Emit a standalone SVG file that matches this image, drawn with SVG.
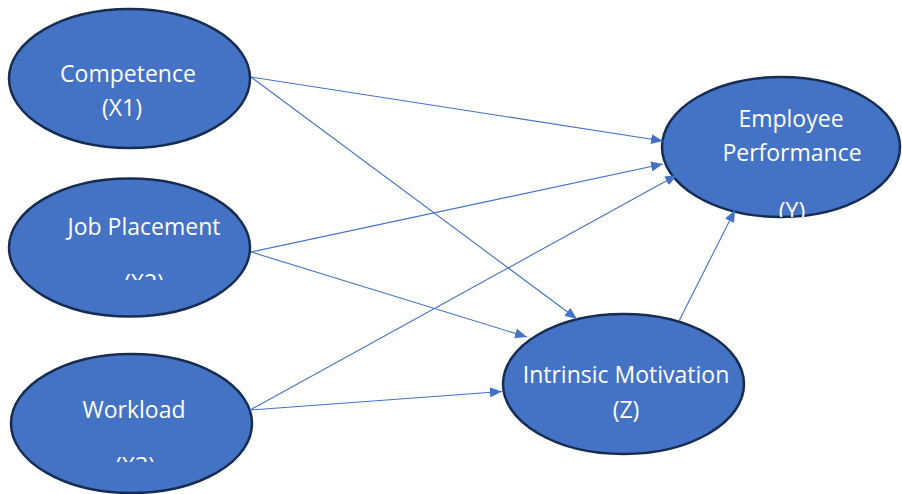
<svg xmlns="http://www.w3.org/2000/svg" width="902" height="494" viewBox="0 0 902 494">
<style>
.node{fill:#4472C4;stroke:#172C51;stroke-width:2.5}
.lbl{fill:#FFFFFF;font-family:"Open Sans","Liberation Sans",sans-serif;font-size:23px;text-anchor:middle}
.edge{stroke:#4472C4;stroke-width:1.1;fill:none;marker-end:url(#ah)}
</style>
<defs>
<marker id="ah" markerWidth="12" markerHeight="10" refX="12" refY="5" orient="auto" markerUnits="userSpaceOnUse">
<path d="M0,0 L12,5 L0,10 z" fill="#4472C4"/>
</marker>
<clipPath id="cX2"><rect x="0" y="0" width="300" height="280"/></clipPath>
<clipPath id="cX3"><rect x="0" y="0" width="300" height="462"/></clipPath>
<clipPath id="cY"><rect x="640" y="0" width="262" height="217"/></clipPath>
</defs>
<rect width="902" height="494" fill="#FFFFFF"/>
<g id="competence">
<ellipse class="node" cx="129.5" cy="78.5" rx="120.5" ry="69.5"/>
<text class="lbl" x="128" y="82">Competence</text>
<text class="lbl" x="122" y="116">(X1)</text>
</g>
<g id="job-placement">
<ellipse class="node" cx="129.5" cy="247.5" rx="120.5" ry="69"/>
<text class="lbl" x="144" y="235">Job Placement</text>
<text class="lbl" x="144" y="291" clip-path="url(#cX2)">(X2)</text>
</g>
<g id="workload">
<ellipse class="node" cx="131.5" cy="423.5" rx="120.5" ry="69.5"/>
<text class="lbl" x="134" y="418">Workload</text>
<text class="lbl" x="135" y="474" clip-path="url(#cX3)">(X3)</text>
</g>
<g id="employee-performance">
<ellipse class="node" cx="781" cy="147" rx="119" ry="70"/>
<text class="lbl" x="791" y="127">Employee</text>
<text class="lbl" x="792" y="161">Performance</text>
<text class="lbl" x="792" y="219" clip-path="url(#cY)">(Y)</text>
</g>
<g id="intrinsic-motivation">
<ellipse class="node" cx="623.5" cy="384" rx="120.5" ry="70"/>
<text class="lbl" x="626" y="383">Intrinsic Motivation</text>
<text class="lbl" x="626" y="418">(Z)</text>
</g>
<g id="connectors">
<line class="edge" x1="251" y1="77" x2="663" y2="141"/>
<line class="edge" x1="251" y1="77" x2="577" y2="319"/>
<line class="edge" x1="251" y1="252" x2="663" y2="164"/>
<line class="edge" x1="251" y1="252" x2="527" y2="337"/>
<line class="edge" x1="250" y1="410" x2="677" y2="175"/>
<line class="edge" x1="250" y1="410" x2="502" y2="391.5"/>
<line class="edge" x1="679" y1="321" x2="735" y2="210"/>
</g>
</svg>
